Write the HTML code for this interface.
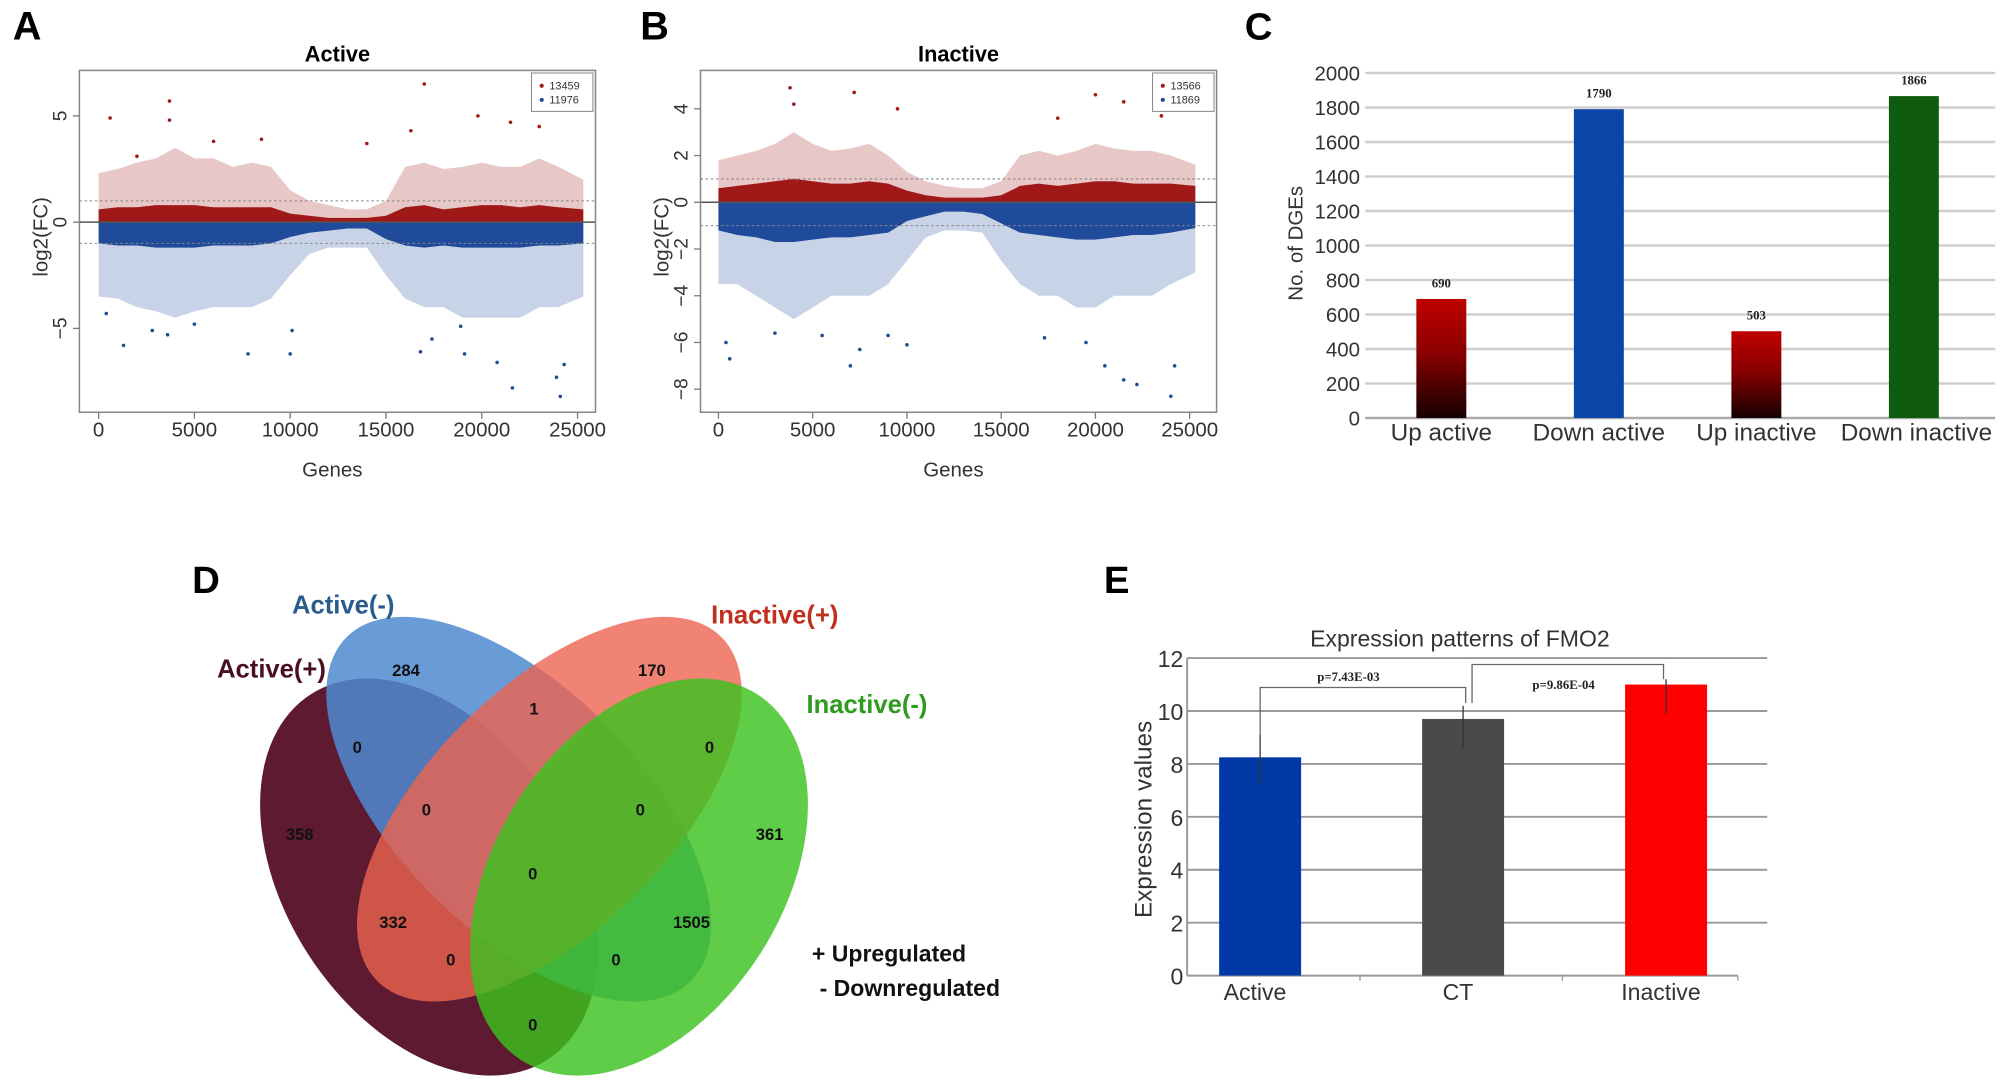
<!DOCTYPE html>
<html><head><meta charset="utf-8"><style>
html,body{margin:0;padding:0;background:#fff;overflow:hidden;width:2008px;height:1087px;}
svg{display:block;font-family:"Liberation Sans",Arial,sans-serif;}
.ser{font-family:"Liberation Serif",serif;font-weight:bold;}
</style></head><body>
<svg id="fig" width="2008" height="1087" viewBox="0 0 1568 849" preserveAspectRatio="none" xmlns="http://www.w3.org/2000/svg">
<g id="pa"></g>
<g id="pb"></g>
<g id="pc"></g>
<g id="pd">
  <text x="150" y="463" font-size="30" font-weight="bold">D</text>
  <ellipse cx="335" cy="685" rx="112" ry="170" transform="rotate(-33 335 685)" fill="#5e1a30"/>
  <ellipse cx="405" cy="632" rx="95" ry="190" transform="rotate(-45 405 632)" fill="#4f8ad0" fill-opacity="0.85"/>
  <ellipse cx="429" cy="632" rx="95" ry="190" transform="rotate(45 429 632)" fill="#ec6450" fill-opacity="0.8"/>
  <ellipse cx="499" cy="685" rx="112" ry="170" transform="rotate(33 499 685)" fill="#3cc21e" fill-opacity="0.82"/>
  <g font-size="20" font-weight="bold" text-anchor="middle">
    <text x="268" y="479" fill="#2b5a8c">Active(-)</text>
    <text x="605" y="487" fill="#c0301c">Inactive(+)</text>
    <text x="212" y="529" fill="#4a1020">Active(+)</text>
    <text x="677" y="557" fill="#2e9a1e">Inactive(-)</text>
  </g>
  <g font-size="13" font-weight="bold" text-anchor="middle" fill="#111">
    <text x="317" y="528">284</text>
    <text x="509" y="528">170</text>
    <text x="417" y="558">1</text>
    <text x="279" y="588">0</text>
    <text x="554" y="588">0</text>
    <text x="333" y="637">0</text>
    <text x="500" y="637">0</text>
    <text x="234" y="656">358</text>
    <text x="601" y="656">361</text>
    <text x="416" y="687">0</text>
    <text x="307" y="725">332</text>
    <text x="540" y="725">1505</text>
    <text x="352" y="754">0</text>
    <text x="481" y="754">0</text>
    <text x="416" y="805">0</text>
  </g>
  <text x="634" y="751" font-size="18" font-weight="bold" fill="#111">+ Upregulated</text>
  <text x="640" y="778" font-size="18" font-weight="bold" fill="#111">- Downregulated</text>
</g>
<g id="pe"></g>
</svg>
<script>
// ---------- Panel A / B data (binned envelopes per 1000 genes, log2FC) ----------
const binGenes = [0,1000,2000,3000,4000,5000,6000,7000,8000,9000,10000,11000,12000,13000,14000,15000,16000,17000,18000,19000,20000,21000,22000,23000,24000,25300];
const aDenseUp  = [0.6,0.7,0.7,0.8,0.8,0.8,0.7,0.7,0.7,0.7,0.4,0.3,0.2,0.2,0.2,0.3,0.7,0.8,0.6,0.7,0.8,0.8,0.7,0.8,0.7,0.6];
const aSparseUp = [2.3,2.5,2.8,3.0,3.5,3.0,3.0,2.6,2.8,2.6,1.5,1.0,0.8,0.6,0.6,1.0,2.6,2.8,2.5,2.6,2.8,2.6,2.6,3.0,2.6,2.0];
const aDenseDn  = [-1.0,-1.1,-1.1,-1.2,-1.2,-1.2,-1.1,-1.1,-1.1,-1.0,-0.7,-0.5,-0.4,-0.3,-0.3,-0.8,-1.1,-1.2,-1.1,-1.2,-1.2,-1.2,-1.2,-1.1,-1.1,-1.0];
const aSparseDn = [-3.5,-3.6,-4.0,-4.2,-4.5,-4.2,-4.0,-4.0,-4.0,-3.6,-2.5,-1.5,-1.2,-1.2,-1.2,-2.5,-3.6,-4.0,-4.0,-4.5,-4.5,-4.5,-4.5,-4.0,-4.0,-3.5];
const aOutGenes = [600,3700,3700,6000,8500,17000,19800,21500,23000,16300,14000,2000,1300,2800,3600,7800,10000,10100,16800,19100,20800,21600,23900,24100,24300,17400,18900,400,5000];
const aOutVals  = [4.9,5.7,4.8,3.8,3.9,6.5,5.0,4.7,4.5,4.3,3.7,3.1,-5.8,-5.1,-5.3,-6.2,-6.2,-5.1,-6.1,-6.2,-6.6,-7.8,-7.3,-8.2,-6.7,-5.5,-4.9,-4.3,-4.8];
const aYTicks = [-5,0,5];
const aLegend = ["13459","11976"];

const bDenseUp  = [0.6,0.7,0.8,0.9,1.0,0.9,0.8,0.8,0.9,0.8,0.5,0.3,0.2,0.2,0.2,0.3,0.7,0.8,0.7,0.8,0.9,0.9,0.8,0.8,0.8,0.7];
const bSparseUp = [1.8,2.0,2.2,2.5,3.0,2.5,2.2,2.3,2.5,2.0,1.3,0.9,0.7,0.6,0.6,0.9,2.0,2.2,2.0,2.2,2.5,2.3,2.2,2.2,2.0,1.6];
const bDenseDn  = [-1.2,-1.4,-1.5,-1.7,-1.7,-1.6,-1.5,-1.5,-1.4,-1.3,-0.8,-0.6,-0.4,-0.4,-0.5,-0.9,-1.3,-1.4,-1.5,-1.6,-1.6,-1.5,-1.4,-1.4,-1.3,-1.1];
const bSparseDn = [-3.5,-3.5,-4.0,-4.5,-5.0,-4.5,-4.0,-4.0,-4.0,-3.5,-2.5,-1.5,-1.2,-1.2,-1.3,-2.5,-3.5,-4.0,-4.0,-4.5,-4.5,-4.0,-4.0,-4.0,-3.5,-3.0];
const bOutGenes = [3800,4000,7200,9500,20000,21500,18000,23500,400,600,3000,5500,7000,7500,9000,10000,19500,20500,21500,22200,24000,24200,17300];
const bOutVals  = [4.9,4.2,4.7,4.0,4.6,4.3,3.6,3.7,-6.0,-6.7,-5.6,-5.7,-7.0,-6.3,-5.7,-6.1,-6.0,-7.0,-7.6,-7.8,-8.3,-7.0,-5.8];
const bYTicks = [-8,-6,-4,-2,0,2,4];
const bLegend = ["13566","11869"];
const xTicks = [0,5000,10000,15000,20000,25000];

// ---------- Panel C data ----------
const cCats = ["Up active","Down active","Up inactive","Down inactive"];
const cVals = [690,1790,503,1866];
const cTicks = [0,200,400,600,800,1000,1200,1400,1600,1800,2000];

// ---------- Panel E data ----------
const eCats = ["Active","CT","Inactive"];
const eVals = [8.25,9.7,11.0];
const eErrHi = [9.1,10.2,11.2];
const eErrLo = [7.2,8.6,9.9];
const eTicks = [0,2,4,6,8,10,12];
const ePLabels = ["p=7.43E-03","p=9.86E-04"];

const NS="http://www.w3.org/2000/svg";
function mk(parent,tag,attrs,txt){const e=document.createElementNS(NS,tag);for(const k in attrs)e.setAttribute(k,attrs[k]);if(txt!==undefined)e.textContent=txt;parent.appendChild(e);return e;}

function scatterPanel(g,o){
  const xs=v=>o.x0+(v-0)*(o.x25-o.x0)/25000;
  const ys=v=>o.yz-v*o.ppu;
  let el=mk(g,'text',{x:o.lx,y:31,'font-size':31,'font-weight':'bold'},o.letter);
  
  
  el=mk(g,'text',{x:(o.bx0+o.bx1)/2,y:48,'font-size':17,'font-weight':'bold','text-anchor':'middle'},o.title);
  
  
  function band(up,dn,fill,op,name){
    let d='M'+xs(binGenes[0])+','+ys(up[0]);
    for(let i=1;i<binGenes.length;i++)d+=' L'+xs(binGenes[i])+','+ys(up[i]);
    for(let i=binGenes.length-1;i>=0;i--)d+=' L'+xs(binGenes[i])+','+ys(dn[i]);
    const p=mk(g,'path',{d:d+'Z',fill:fill,'fill-opacity':op});
    
    
  }
  const zeros=binGenes.map(()=>0);
  band(o.sUp,zeros,'#a52020',0.25,'up-sparse-band');
  band(zeros,o.sDn,'#24509e',0.25,'down-sparse-band');
  band(o.dUp,zeros,'#a01818',1,'up-dense-band');
  band(zeros,o.dDn,'#1f4b9a',1,'down-dense-band');
  for(let i=0;i<o.og.length;i++){
    const c=mk(g,'circle',{cx:xs(o.og[i]),cy:ys(o.ov[i]),r:1.4,fill:o.ov[i]>0?'#a01818':'#1f4b9a'});
    
    
  }
  mk(g,'line',{x1:o.bx0,x2:o.bx1,y1:ys(0),y2:ys(0),stroke:'#555','stroke-width':1.2});
  [1,-1].forEach(v=>mk(g,'line',{x1:o.bx0,x2:o.bx1,y1:ys(v),y2:ys(v),stroke:'#888','stroke-width':0.8,'stroke-dasharray':'2,2'}));
  el=mk(g,'rect',{x:o.bx0,y:55,width:o.bx1-o.bx0,height:267,fill:'none',stroke:'#888','stroke-width':1.2});
  
  
  o.yt.forEach(v=>{
    mk(g,'line',{x1:o.bx0-5,x2:o.bx0,y1:ys(v),y2:ys(v),stroke:'#777'});
    const t=mk(g,'text',{x:o.bx0-10,y:ys(v),'font-size':15,fill:'#333','text-anchor':'middle',transform:`rotate(-90 ${o.bx0-10} ${ys(v)})`},String(v).replace('-','−'));
    
    
  });
  el=mk(g,'text',{x:o.bx0-30,y:190,'font-size':16,fill:'#333','text-anchor':'middle',transform:`rotate(-90 ${o.bx0-30} 185)`},'log2(FC)');
  
  
  xTicks.forEach(v=>{
    mk(g,'line',{x1:xs(v),x2:xs(v),y1:322,y2:327,stroke:'#777'});
    const t=mk(g,'text',{x:xs(v),y:341,'font-size':16,fill:'#333','text-anchor':'middle'},String(v));
    
    
  });
  el=mk(g,'text',{x:(o.bx0+o.bx1)/2-4,y:372,'font-size':16,fill:'#333','text-anchor':'middle'},'Genes');
  
  
  const lg=mk(g,'g',{});
  
  
  mk(lg,'rect',{x:o.bx1-50,y:57,width:48,height:30,fill:'#fff',stroke:'#888','stroke-width':0.8});
  mk(lg,'circle',{cx:o.bx1-42,cy:67,r:1.6,fill:'#a01818'});
  mk(lg,'circle',{cx:o.bx1-42,cy:78,r:1.6,fill:'#1f4b9a'});
  mk(lg,'text',{x:o.bx1-36,y:70,'font-size':8.5,fill:'#333'},o.leg[0]);
  mk(lg,'text',{x:o.bx1-36,y:81,'font-size':8.5,fill:'#333'},o.leg[1]);
}
scatterPanel(document.getElementById('pa'),{letter:'A',lx:10,title:'Active',bx0:62,bx1:465,x0:77,x25:451,yz:173.5,ppu:16.6,
  dUp:aDenseUp,sUp:aSparseUp,dDn:aDenseDn,sDn:aSparseDn,og:aOutGenes,ov:aOutVals,yt:aYTicks,leg:aLegend});
scatterPanel(document.getElementById('pb'),{letter:'B',lx:500,title:'Inactive',bx0:547,bx1:950,x0:561,x25:929,yz:158,ppu:18.25,
  dUp:bDenseUp,sUp:bSparseUp,dDn:bDenseDn,sDn:bSparseDn,og:bOutGenes,ov:bOutVals,yt:bYTicks,leg:bLegend});

// ---------- Panel C ----------
(function(){
  const g=document.getElementById('pc');
  const y0=326.5,pp=(326.5-57)/2000;
  const ys=v=>y0-v*pp;
  const bw=39, x0=1066, step=(1558-1066)/4;
  let el=mk(g,'text',{x:972,y:31,'font-size':30,'font-weight':'bold'},'C');
  
  
  const defs=mk(g,'defs',{});
  const lgd=mk(defs,'linearGradient',{id:'upg',x1:0,y1:0,x2:0,y2:1});
  mk(lgd,'stop',{offset:'0','stop-color':'#c00000'});
  mk(lgd,'stop',{offset:'0.45','stop-color':'#8a0000'});
  mk(lgd,'stop',{offset:'1','stop-color':'#150000'});
  cTicks.forEach(v=>{
    const l=mk(g,'line',{x1:1066,x2:1558,y1:ys(v),y2:ys(v),stroke:v===0?'#aaa':'#cfcfcf','stroke-width':2});
    
    
    const t=mk(g,'text',{x:1062,y:ys(v)+6,'font-size':16,fill:'#333','text-anchor':'end'},String(v));
    
    
  });
  const fills=['url(#upg)','#0a45a8','url(#upg)','#0f5c0f'];
  cVals.forEach((v,i)=>{
    const cx=x0+step*(i+0.5)-2;
    const r=mk(g,'rect',{x:cx-bw/2,y:ys(v),width:bw,height:y0-ys(v),fill:fills[i]});
    
    
    const t=mk(g,'text',{x:cx,y:ys(v)-9,'font-size':10,'text-anchor':'middle',class:'ser',fill:'#222'},String(v));
    
    
    const c=mk(g,'text',{x:cx+(i===3?2:0),y:344,'font-size':19,'text-anchor':'middle',fill:'#333'},cCats[i]);
    
    
  });
  el=mk(g,'text',{x:1017,y:190,'font-size':16,fill:'#333','text-anchor':'middle',transform:'rotate(-90 1017 190)'},'No. of DGEs');
  
  
})();

// ---------- Panel E ----------
(function(){
  const g=document.getElementById('pe');
  const y0=762,pp=(762-514)/12;
  const ys=v=>y0-v*pp;
  const cxs=i=>984+i*158.5, bw=64;
  let el=mk(g,'text',{x:862,y:463,'font-size':30,'font-weight':'bold'},'E');
  
  
  el=mk(g,'text',{x:1140,y:505,'font-size':18,fill:'#333','text-anchor':'middle'},'Expression patterns of FMO2');
  
  
  eTicks.forEach(v=>{
    if(v>0){const l=mk(g,'line',{x1:927,x2:1380,y1:ys(v),y2:ys(v),stroke:'#999','stroke-width':1.5});
    
    }
    const t=mk(g,'text',{x:924,y:ys(v)+7,'font-size':18,fill:'#333','text-anchor':'end'},String(v));
    
    
  });
  mk(g,'line',{x1:927,x2:927,y1:ys(12),y2:y0,stroke:'#999','stroke-width':1.5});
  mk(g,'line',{x1:927,x2:1357,y1:y0,y2:y0,stroke:'#999','stroke-width':1.5});
  [1062,1220,1357].forEach(x=>mk(g,'line',{x1:x,x2:x,y1:y0,y2:y0+4,stroke:'#999'}));
  const fills=['#0039a6','#4a4a4a','#ff0000'];
  eVals.forEach((v,i)=>{
    const cx=cxs(i);
    const r=mk(g,'rect',{x:cx-bw/2,y:ys(v),width:bw,height:y0-ys(v),fill:fills[i]});
    
    
    const e=mk(g,'line',{x1:cx,x2:cx,y1:ys(eErrHi[i]),y2:ys(eErrLo[i]),stroke:'#333','stroke-width':1});
    
    
    const t=mk(g,'text',{x:cx-4,y:781,'font-size':18,fill:'#333','text-anchor':'middle'},eCats[i]);
    
    
  });
  const b1=mk(g,'path',{d:`M${cxs(0)},${ys(eErrHi[0])} V537 H${cxs(1)+2} V${ys(eErrHi[1])-2}`,fill:'none',stroke:'#666','stroke-width':1});
  
  
  const b2=mk(g,'path',{d:`M${cxs(1)+7},${ys(eErrHi[1])-2} V519 H${cxs(2)-2} V${ys(eErrHi[2])}`,fill:'none',stroke:'#666','stroke-width':1});
  
  
  let p=mk(g,'text',{x:1053,y:532,'font-size':10,class:'ser','text-anchor':'middle',fill:'#222'},ePLabels[0]);
  
  
  p=mk(g,'text',{x:1221,y:538,'font-size':10,class:'ser','text-anchor':'middle',fill:'#222'},ePLabels[1]);
  
  
  el=mk(g,'text',{x:899,y:640,'font-size':19,fill:'#333','text-anchor':'middle',transform:'rotate(-90 899 640)'},'Expression values');
  
  
})();
</script>
</body></html>
